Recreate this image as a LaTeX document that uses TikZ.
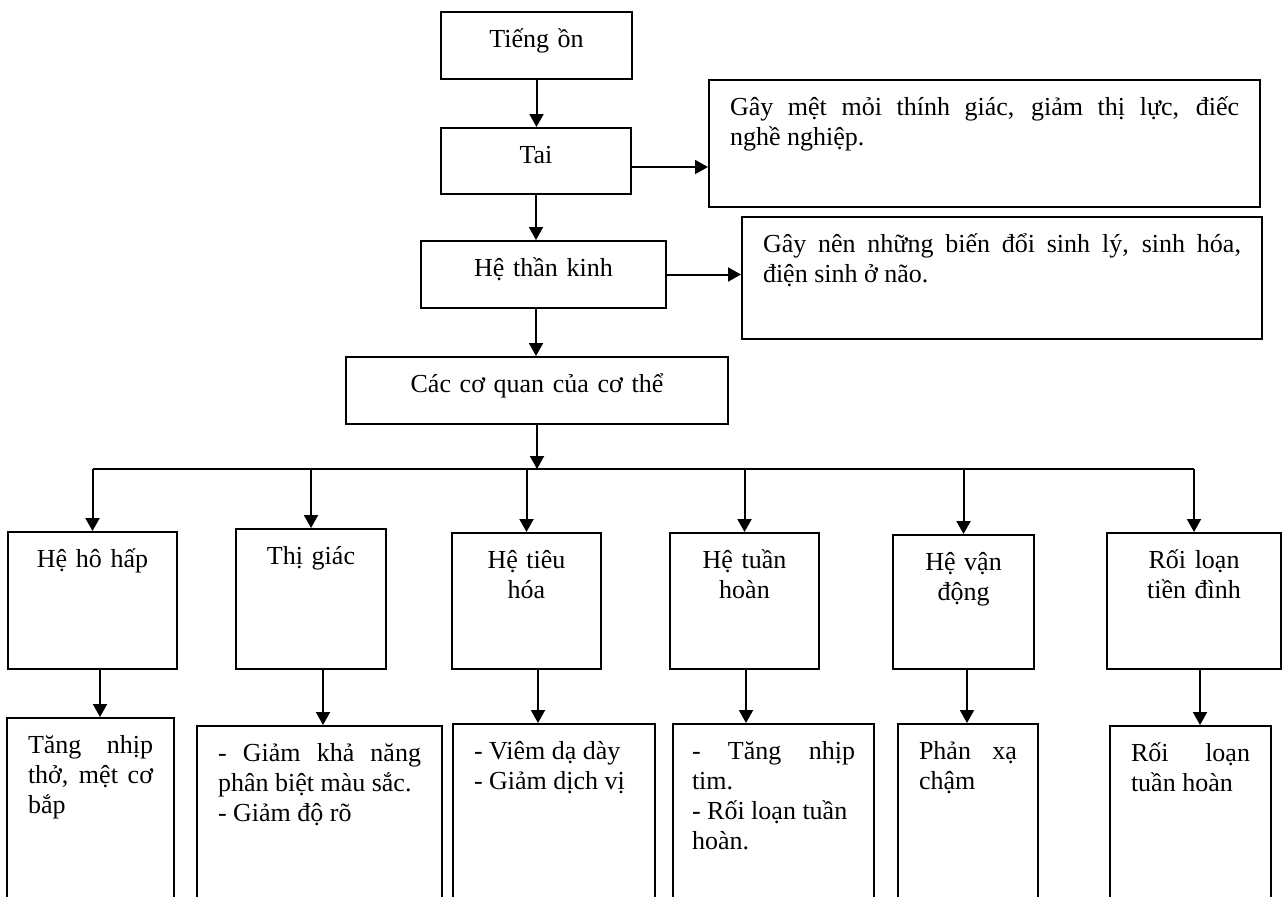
\documentclass[tikz,border=0pt]{standalone}
\usepackage{fontspec}
\setmainfont{Liberation Serif}
\usetikzlibrary{arrows.meta}
\hyphenpenalty=10000
\newcommand{\jtext}[2]{\parbox[t]{#1}{#2}}
\tikzset{
  box/.style={draw, line width=1pt, anchor=north, inner xsep=10.5pt, inner ysep=0pt,
    text height=17.5pt, font=\fontsize{13}{15}\selectfont},
  ctr/.style={execute at begin node=\centering},
  boxsize/.style 2 args={text width={#1*0.5pt-21pt}, text depth={#2*0.5pt-17.5pt}},
  deep/.style={text depth={#1*0.5pt-17.5pt}},
  arr/.style={line width=1pt, -{Triangle[length=6.5pt,width=7pt]}}
}

\begin{document}
\begin{tikzpicture}[x=0.5pt,y=-0.5pt]
    \useasboundingbox (0,0) rectangle (1283,896);
    \clip (0,0) rectangle (1283,896);

    % main chain
    \node[box, ctr, boxsize={191}{67}] (tieng) at (536.5,11) {Tiếng ồn};
    \node[box, ctr, boxsize={190}{66}] (tai) at (536,127) {Tai};
    \node[box, ctr, boxsize={245}{67}] (htk) at (543.5,240) {Hệ thần kinh};
    \node[box, ctr, boxsize={382}{67}] (cq) at (537,356) {Các cơ quan của cơ thể};

    \node[box, deep=127] (gay1) at (984.5,79)
      {\jtext{254.5pt}{Gây mệt mỏi thính giác, giảm thị lực, điếc\linebreak nghề nghiệp.}};
    \node[box, deep=122] (gay2) at (1002,216)
      {\jtext{239pt}{Gây nên những biến đổi sinh lý, sinh hóa,\linebreak điện sinh ở não.}};

    \draw[arr] (tieng.south) -- (tieng.south |- tai.north);
    \draw[arr] (tai.south) -- (tai.south |- htk.north);
    \draw[arr] (htk.south -| tai.south) -- (tai.south |- cq.north);
    \draw[arr] ([yshift=-3pt]tai.east) -- ([yshift=-3pt]tai.east -| gay1.west);
    \draw[arr] (htk.east) -- (htk.east -| gay2.west);

    % organs
    \node[box, ctr, boxsize={169}{137}] (hh) at (92.5,531) {Hệ hô hấp};
    \node[box, ctr, boxsize={150}{140}] (tg) at (311,528) {Thị giác};
    \node[box, ctr, boxsize={149}{136}] (tieu) at (526.5,532) {Hệ tiêu\\hóa};
    \node[box, ctr, boxsize={149}{136}] (tuan) at (744.5,532) {Hệ tuần\\hoàn};
    \node[box, ctr, boxsize={141}{134}] (vdong) at (963.5,534) {Hệ vận\\động};
    \node[box, ctr, boxsize={174}{136}] (rl) at (1194,532) {Rối loạn\\tiền đình};

    \coordinate (bus) at (537,469);
    \draw[line width=1pt] (hh.north |- bus) -- (rl.north |- bus);
    \draw[arr] (cq.south) -- (cq.south |- bus);
    \foreach \n in {hh,tg,tieu,tuan,vdong,rl}
      \draw[arr] (\n.north |- bus) -- (\n.north);

    % effects
    \node[box, deep=193] (tang) at (90.5,717)
      {\jtext{62.5pt}{Tăng nhịp\linebreak thở, mệt cơ\linebreak bắp}};
    \node[box, deep=185] (giam) at (319.5,725)
      {\jtext{101.5pt}{- Giảm khả năng\linebreak phân biệt màu sắc.\\- Giảm độ rõ}};
    \node[box, deep=187] (viem) at (554,723)
      {\jtext{80pt}{- Viêm dạ dày\\- Giảm dịch vị}};
    \node[box, deep=187, inner xsep=9.5pt] (nhip) at (773.5,723)
      {\jtext{81.5pt}{- Tăng nhịp\linebreak tim.\\- Rối loạn tuần\\hoàn.}};
    \node[box, deep=187] (phan) at (968,723)
      {\jtext{49pt}{Phản xạ\linebreak chậm}};
    \node[box, deep=185] (roi) at (1190.5,725)
      {\jtext{59.5pt}{Rối loạn\linebreak tuần hoàn}};

    \foreach \a/\b/\s in {hh/tang/3.75pt, tg/giam/6pt, tieu/viem/5.75pt,
      tuan/nhip/0.75pt, vdong/phan/1.75pt, rl/roi/3pt}
      \draw[arr] ([xshift=\s]\a.south) -- ([xshift=\s]\a.south |- \b.north);
\end{tikzpicture}
\end{document}
